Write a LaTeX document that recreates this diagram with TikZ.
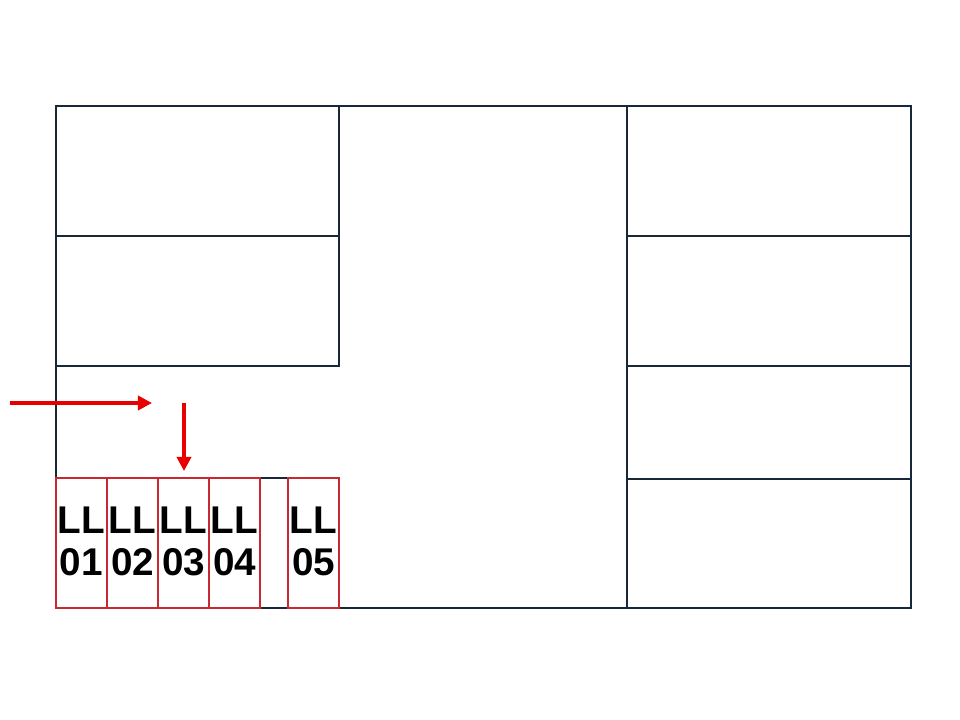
\documentclass[tikz,border=0pt]{standalone}
\usepackage{fontspec}
\setmainfont{Liberation Sans}
\usetikzlibrary{positioning, arrows.meta}
\definecolor{wallcol}{RGB}{23,40,56}
\definecolor{boxred}{RGB}{200,40,50}
\definecolor{arrowred}{RGB}{232,0,0}
\newcommand{\lldrop}{\rule[-3pt]{0pt}{3pt}}

\begin{document}
\begin{tikzpicture}[x=0.025cm, y=-0.025cm,
    wall/.style={draw=wallcol, line width=1pt},
    llbox/.style={draw=boxred, line width=1pt, inner sep=0pt, outer sep=0pt,
      minimum width=1.275cm, minimum height=3.25cm, align=center,
      font=\fontsize{27.5}{30}\selectfont\bfseries},
    redarrow/.style={draw=arrowred, line width=2.9pt,
      -{Triangle[length=10pt, width=10pt]}}]
  \useasboundingbox (0,0) rectangle (960,720);
  % walls
  \draw[wall] (56,106) rectangle (911,608);
  \draw[wall] (56,106) rectangle (339,236);
  \draw[wall] (56,236) rectangle (339,366);
  \draw[wall] (627,106) -- (627,608);
  \draw[wall] (627,236) -- (911,236)
              (627,366) -- (911,366)
              (627,479) -- (911,479);
  \draw[wall] (260,478) -- (288,478);
  % lockers
  \node[llbox] (ll01) at (81.5,543) {LL\\01\lldrop};
  \node[llbox] (ll02) [right=0pt of ll01] {LL\\02\lldrop};
  \node[llbox] (ll03) [right=0pt of ll02] {LL\\03\lldrop};
  \node[llbox] (ll04) [right=0pt of ll03] {LL\\04\lldrop};
  \node[llbox] (ll05) [right=0.7cm of ll04] {LL\\05\lldrop};
  % arrows
  \coordinate (in1) at (10,403);
  \coordinate (in2) at (152,403);
  \coordinate (dn1) at (184,403);
  \coordinate (dn2) at (184,471);
  \draw[redarrow] (in1) -- (in2);
  \draw[redarrow] (dn1) -- (dn2);
\end{tikzpicture}
\end{document}
